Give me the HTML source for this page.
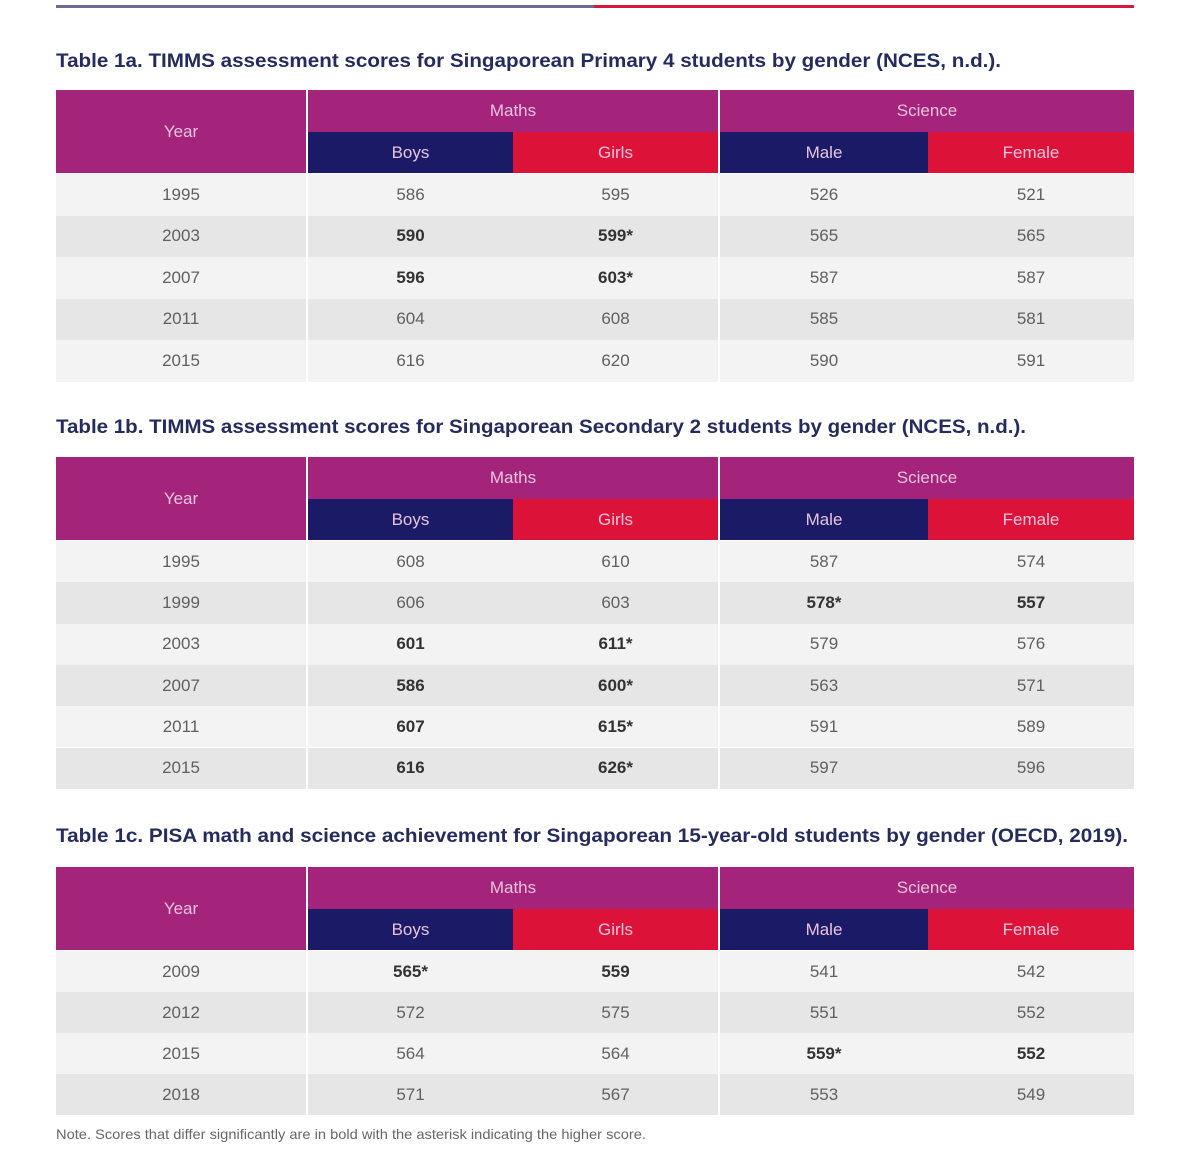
<!DOCTYPE html>
<html><head><meta charset="utf-8">
<style>
body{margin:0;width:1200px;height:1155px;background:#fff;position:relative;overflow:hidden;font-family:"Liberation Sans",sans-serif}
.abs{position:absolute}
.title{position:absolute;left:56px;font-weight:bold;font-size:19px;color:#262b5e;white-space:nowrap;transform-origin:left center}
.cell{position:absolute;display:flex;align-items:center;justify-content:center;font-size:17px;color:#606060;box-sizing:border-box}
.hd{color:#e8c4dc;font-size:17px}
.b{font-weight:bold;color:#333}
</style></head><body>
<div class="abs" style="left:56px;top:5px;width:538px;height:3px;background:#6e6a92"></div>
<div class="abs" style="left:594px;top:5px;width:540px;height:3px;background:#d8173f"></div>
<div id="root"></div>
<div id="note" class="abs" style="left:56px;top:1126px;font-size:14px;color:#666;white-space:nowrap;transform-origin:left center">Note. Scores that differ significantly are in bold with the asterisk indicating the higher score.</div>
<script>
const titles=["Table 1a. TIMMS assessment scores for Singaporean Primary 4 students by gender (NCES, n.d.).",
"Table 1b. TIMMS assessment scores for Singaporean Secondary 2 students by gender (NCES, n.d.).",
"Table 1c. PISA math and science achievement for Singaporean 15-year-old students by gender (OECD, 2019)."];
const years1=["1995","2003","2007","2011","2015"];
const rows1=[["586","595","526","521"],["**590","**599*","565","565"],["**596","**603*","587","587"],["604","608","585","581"],["616","620","590","591"]];
const years2=["1995","1999","2003","2007","2011","2015"];
const rows2=[["608","610","587","574"],["606","603","**578*","**557"],["**601","**611*","579","576"],["**586","**600*","563","571"],["**607","**615*","591","589"],["**616","**626*","597","596"]];
const years3=["2009","2012","2015","2018"];
const rows3=[["**565*","**559","541","542"],["572","575","551","552"],["564","564","**559*","**552"],["571","567","553","549"]];
const titleY=[63,429,838];
const headTop=[90,457,867];
const rowH=[41.5,41.3,41];
const tables=[[years1,rows1],[years2,rows2],[years3,rows3]];
const colX=[56,308,513,720,928,1134];
const root=document.getElementById('root');
const note=document.getElementById('note');
note.style.transform='scaleX('+(590/note.getBoundingClientRect().width)+')';
function mk(cls,x,y,w,h,bg,txt,name){
  const d=document.createElement('div');
  d.className=cls;
  d.style.left=x+'px';d.style.top=y+'px';d.style.width=w+'px';d.style.height=h+'px';
  if(bg)d.style.background=bg;
  d.textContent=txt;
  
  
  root.appendChild(d);return d;
}
const P='#a4237b',N='#1b1a66',R='#dc1239';
tables.forEach((t,ti)=>{
  const tt=document.createElement('div');
  tt.className='title';tt.style.top=(titleY[ti]-12)+'px';tt.textContent=titles[ti];
  
  
  root.appendChild(tt);
  const w=tt.getBoundingClientRect().width;
  const target=[945,970,1072][ti];
  tt.style.transform='scaleX('+(target/w)+')';
  const h0=headTop[ti];
  mk('cell hd',56,h0,250,83,P,'Year','year-header');
  mk('cell hd',308,h0,410,42,P,'Maths','maths-header');
  mk('cell hd',720,h0,414,42,P,'Science','science-header');
  mk('cell hd',308,h0+42,205,41,N,'Boys','boys-header');
  mk('cell hd',513,h0+42,205,41,R,'Girls','girls-header');
  mk('cell hd',720,h0+42,208,41,N,'Male','male-header');
  mk('cell hd',928,h0+42,206,41,R,'Female','female-header');
  const [yrs,rows]=t;
  yrs.forEach((y,ri)=>{
    const top=h0+84+ri*rowH[ti];
    const bg=ri%2?'#e6e6e6':'#f3f3f3';
    mk('cell',56,top,250,rowH[ti],bg,y,'year-cell');
    mk('abs',306,top,2,rowH[ti],'#fff','','column-divider');
    rows[ri].forEach((v,ci)=>{
      const bold=v.startsWith('**');
      mk('cell'+(bold?' b':''),colX[ci+1],top,colX[ci+2]-colX[ci+1]-(ci==1?2:0),rowH[ti],bg,bold?v.slice(2):v,'score-cell');
    });
    mk('abs',718,top,2,rowH[ti],'#fff','','column-divider');
  });
});
</script>
</body></html>
